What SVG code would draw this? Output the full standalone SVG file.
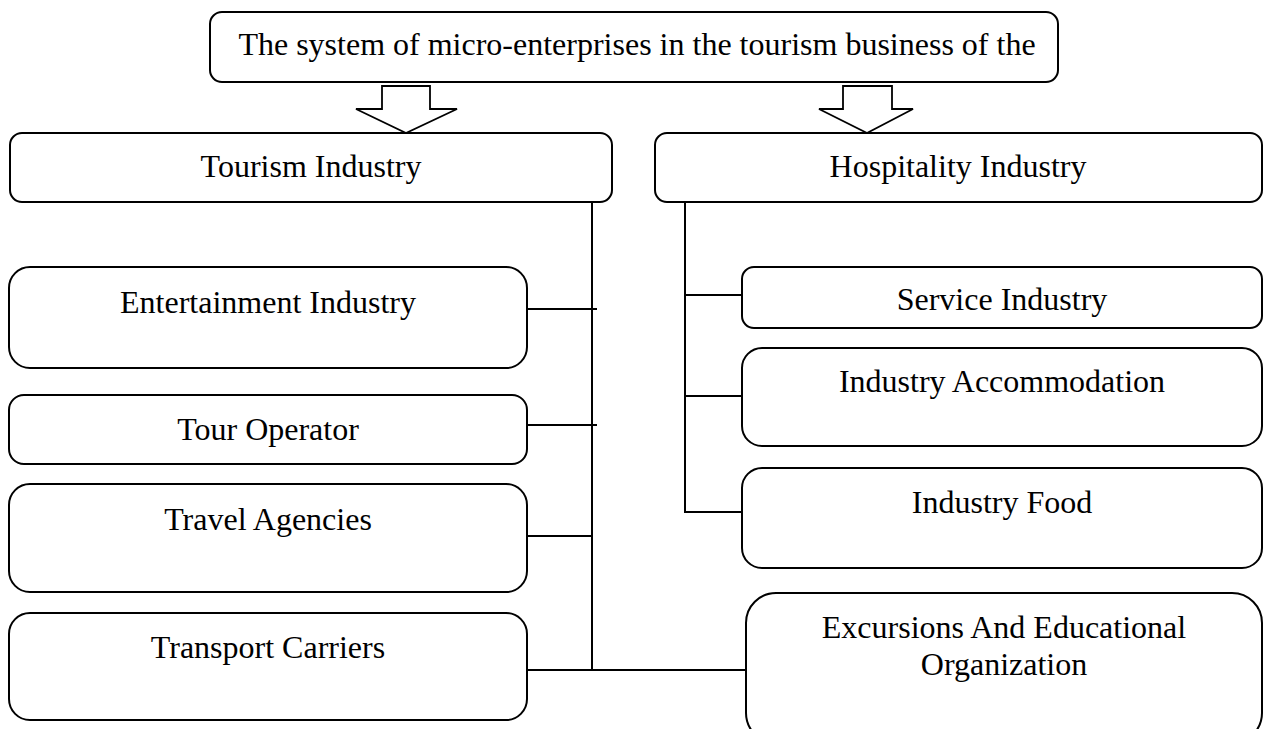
<svg xmlns="http://www.w3.org/2000/svg" width="1263" height="729" viewBox="0 0 1263 729">
<style>
.box{fill:#fff;stroke:#000;stroke-width:2}
.t{font-family:"Liberation Serif","Times New Roman",serif;font-size:32px;fill:#000;text-anchor:middle}
.ln{stroke:#000;stroke-width:2;fill:none}
.arr{fill:#fff;stroke:#000;stroke-width:1.8;stroke-linejoin:miter}
</style>
<rect width="1263" height="729" fill="#fff"/>
<g id="top">
<rect class="box" x="210" y="12" width="848" height="70" rx="12"/>
<text class="t" x="637" y="55">The system of micro-enterprises in the tourism business of the</text>
</g>
<g id="arrows">
<polygon class="arr" points="382,86 430,86 430,109 457,109 406,133 356,109 382,109"/>
<polygon class="arr" points="843,86 892,86 892,109 913,109 867,133 819,109 843,109"/>
</g>
<g id="connectors">
<line class="ln" x1="592" y1="202" x2="592" y2="670"/>
<line class="ln" x1="527" y1="309" x2="597" y2="309"/>
<line class="ln" x1="527" y1="425" x2="597" y2="425"/>
<line class="ln" x1="527" y1="536" x2="592" y2="536"/>
<line class="ln" x1="527" y1="670" x2="746" y2="670"/>
<polyline class="ln" points="685,202 685,512 742,512"/>
<line class="ln" x1="685" y1="295" x2="742" y2="295"/>
<line class="ln" x1="685" y1="396" x2="742" y2="396"/>
</g>
<g id="tourism">
<rect class="box" x="10" y="133" width="602" height="69" rx="12"/>
<text class="t" x="311" y="177">Tourism Industry</text>
</g>
<g id="hospitality">
<rect class="box" x="655" y="133" width="607" height="69" rx="12"/>
<text class="t" x="958" y="177">Hospitality Industry</text>
</g>
<g id="entertainment">
<rect class="box" x="9" y="267" width="518" height="101" rx="21"/>
<text class="t" x="268" y="313">Entertainment Industry</text>
</g>
<g id="touroperator">
<rect class="box" x="9" y="395" width="518" height="69" rx="15"/>
<text class="t" x="268" y="440">Tour Operator</text>
</g>
<g id="travel">
<rect class="box" x="9" y="484" width="518" height="108" rx="21"/>
<text class="t" x="268" y="530">Travel Agencies</text>
</g>
<g id="transport">
<rect class="box" x="9" y="613" width="518" height="107" rx="21"/>
<text class="t" x="268" y="658">Transport Carriers</text>
</g>
<g id="service">
<rect class="box" x="742" y="267" width="520" height="61" rx="12"/>
<text class="t" x="1002" y="310">Service Industry</text>
</g>
<g id="accommodation">
<rect class="box" x="742" y="348" width="520" height="98" rx="20"/>
<text class="t" x="1002" y="392">Industry Accommodation</text>
</g>
<g id="food">
<rect class="box" x="742" y="468" width="520" height="100" rx="20"/>
<text class="t" x="1002" y="513">Industry Food</text>
</g>
<g id="excursions">
<rect class="box" x="746" y="593" width="516" height="150" rx="30"/>
<text class="t" x="1004" y="638">Excursions And Educational</text>
<text class="t" x="1004" y="675">Organization</text>
</g>
</svg>
